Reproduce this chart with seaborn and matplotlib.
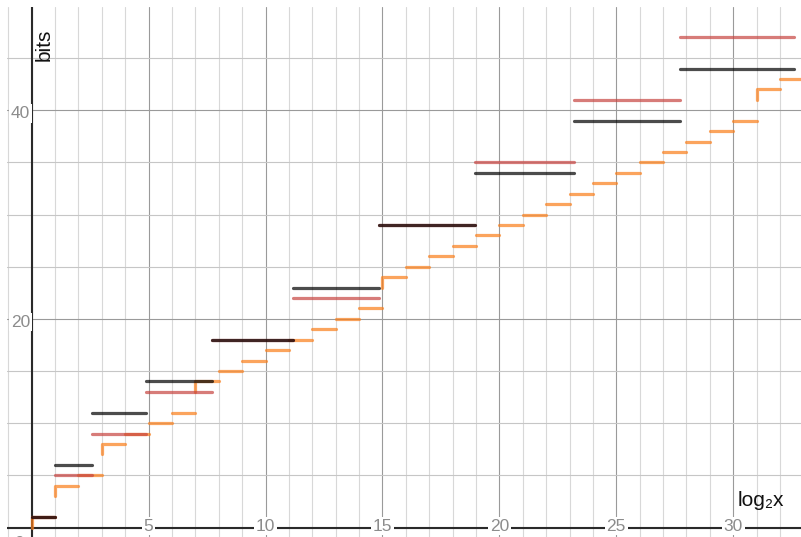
import matplotlib
matplotlib.use("Agg")
import matplotlib.pyplot as plt
import numpy as np
import pandas as pd
import seaborn as sns
from matplotlib.ticker import MultipleLocator

# ---- data ----
# step boundaries on the log2(x) axis (log2 of 1, 2, 6, 30, 210, ...)
bounds = [0.0, 1.0, 2.585, 4.907, 7.714, 11.174, 14.874, 18.962, 23.209, 27.733, 32.591]
black_bits = [1, 6, 11, 14, 18, 23, 29, 34, 39, 44]
red_bits = [1, 5, 9, 13, 18, 22, 29, 35, 41, 47]

# orange staircase: value on [n, n+1]
orange_start = list(range(0, 33))
orange_bits = [1, 4, 5, 8, 9, 10, 11, 14, 15, 16, 17, 18, 19, 20, 21,
               24, 25, 26, 27, 28, 29, 30, 31, 32, 33, 34, 35, 36, 37, 38, 39,
               42, 43]
# short vertical pieces of the orange curve
jump_x = [0, 1, 3, 7, 15, 31]
jump_lo = [0, 3, 7, 13, 23, 41]

x_ticks = [5, 10, 15, 20, 25, 30]
y_ticks = [20, 40]

# ---- build long tables ----
def step_table(b, vals):
    rows = []
    for i, v in enumerate(vals):
        rows.append((i, b[i], v))
        rows.append((i, b[i + 1], v))
    return pd.DataFrame(rows, columns=["seg", "x", "y"])

black_df = step_table(bounds, black_bits)
red_df = step_table(bounds, red_bits)

rows = []
for n, v in zip(orange_start, orange_bits):
    if n in jump_x:
        rows.append((n, n, jump_lo[jump_x.index(n)]))
    rows.append((n, n, v))
    rows.append((n, n + 1, v))
orange_df = pd.DataFrame(rows, columns=["seg", "x", "y"])

# ---- style ----
sns.set_style("white")
plt.rcParams["font.family"] = ["Liberation Sans", "DejaVu Sans"]

fig = plt.figure(figsize=(8.01, 5.37), dpi=100)
ax = fig.add_axes([7 / 801, 0, 794 / 801, 530 / 537])

ax.set_xlim(-1.056, 32.90)
ax.set_ylim(-0.91, 49.9)

ax.xaxis.set_major_locator(MultipleLocator(5))
ax.xaxis.set_minor_locator(MultipleLocator(1))
ax.yaxis.set_major_locator(MultipleLocator(20))
ax.yaxis.set_minor_locator(MultipleLocator(5))
ax.xaxis.grid(True, which="major", color="#9a9a9a", lw=0.8)
ax.xaxis.grid(True, which="minor", color="#d8d8d8", lw=0.8)
ax.yaxis.grid(True, which="major", color="#9a9a9a", lw=0.8)
ax.yaxis.grid(True, which="minor", color="#c6c6c6", lw=0.8)
ax.set_axisbelow(True)
ax.tick_params(which="both", length=0, labelbottom=False, labelleft=False)
for s in ax.spines.values():
    s.set_visible(False)

ax.axhline(0, color="#2a2a2a", lw=1.5, zorder=1.5)
ax.axvline(0, color="#2a2a2a", lw=1.5, zorder=1.5)

lw = 2.3
common = dict(x="x", y="y", units="seg", estimator=None, sort=False,
              lw=lw, alpha=0.7, solid_capstyle="round", solid_joinstyle="round",
              legend=False, ax=ax)
sns.lineplot(data=orange_df, color="#fa7e19", zorder=3, **common)
sns.lineplot(data=red_df, color="#c74440", zorder=4, **common)
sns.lineplot(data=black_df, color="#000000", zorder=5, **common)
ax.set_xlabel("")
ax.set_ylabel("")

# tick labels drawn on the axis lines
box = dict(facecolor="white", edgecolor="none", pad=1.2)
for t in x_ticks:
    ax.text(t, -0.31, str(t), ha="center", va="baseline", fontsize=12.5,
            color="#8c8c8c", bbox=box, zorder=2)
for t in y_ticks:
    ax.text(-0.07, t - 0.75, str(t), ha="right", va="baseline", fontsize=12.5,
            color="#8c8c8c", bbox=box, zorder=2)
ax.text(-0.52, -1.94, "0", ha="center", va="baseline", fontsize=12.5,
        color="#8c8c8c", zorder=2)

ax.text(0.526, 46.26, "bits", rotation=90, ha="center", va="center",
        fontsize=15, color="#111111", zorder=6)
ax.text(30.17, 2.06, "log₂x", ha="left", va="baseline", fontsize=15,
        color="#111111", zorder=6)

fig.savefig("out.png", dpi=100)
